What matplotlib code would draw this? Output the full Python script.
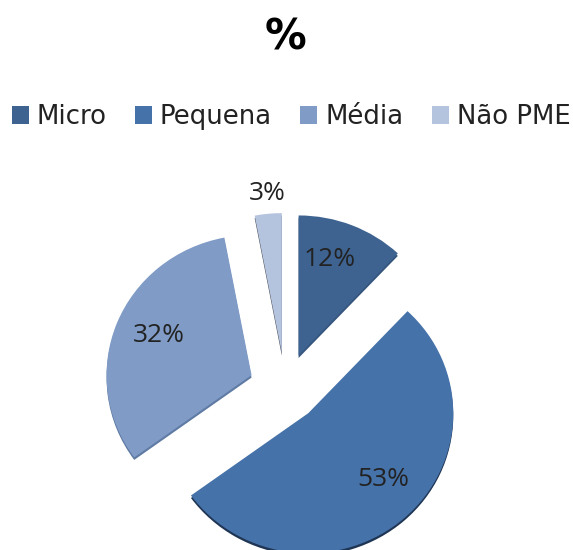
import matplotlib
matplotlib.use("Agg")
import matplotlib.pyplot as plt

plt.rcParams['font.family'] = ['DejaVu Sans']

# data
categories = ['Micro', 'Pequena', 'Média', 'Não PME']
values = [12, 53, 32, 3]
labels = ['12%', '53%', '32%', '3%']
colors = ['#3e6391', '#4672aa', '#7f9bc6', '#b5c4de']
rim_colors = ['#35557d', '#1f3554', '#5f7aa3', '#4a4f5a']

fig = plt.figure(figsize=(5.73, 5.5), dpi=100)

# axes placed so one data unit is about 145 x 140 px, pie centre at (285, 388) px
ax = fig.add_axes([104 / 573, -13 / 550, 362.5 / 573, 350 / 550])

explode = [0.25, 0.24, 0.25, 0.25]

# darker copy slightly lower gives the 3D rim
ax.pie(values, colors=rim_colors, startangle=90, counterclock=False,
       explode=explode, center=(0, -0.018), frame=False)
wedges, _ = ax.pie(values, colors=colors, startangle=90, counterclock=False,
                   explode=explode, frame=False)
ax.set_xlim(-1.25, 1.25)
ax.set_ylim(-1.25, 1.25)
ax.set_aspect('auto')
ax.axis('off')

# percent labels, pixel positions from the reference
label_pos = [(330, 260), (383, 479), (159, 336), (267, 194)]
for txt, (x, y) in zip(labels, label_pos):
    fig.text(x / 573, 1 - y / 550, txt, ha='center', va='center', fontsize=19,
             family='Open Sans', color='#222222')

fig.text(285 / 573, 1 - 38 / 550, '%', ha='center', va='center', fontsize=30,
         fontweight='bold', color='black')

fig.legend(wedges, categories, loc='center', bbox_to_anchor=(0.508, 1 - 117 / 550), ncol=4,
           frameon=False, fontsize=18.7, handlelength=0.65, handleheight=0.65,
           handletextpad=0.3, columnspacing=1.1, labelcolor='#222222')

fig.savefig('out.png', dpi=100)
